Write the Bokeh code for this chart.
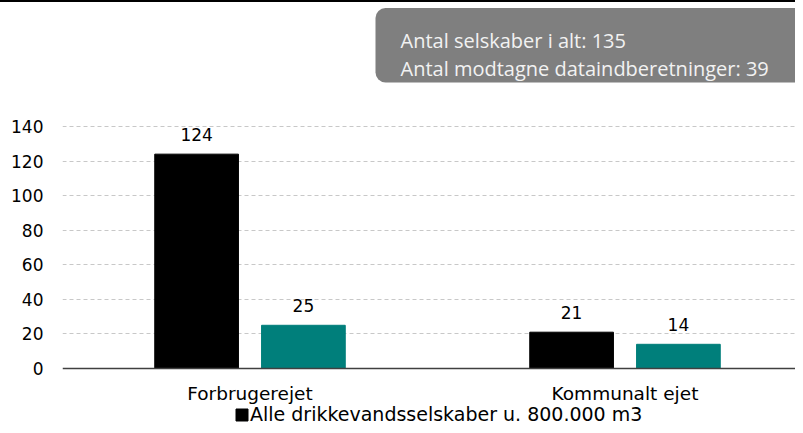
from bokeh.plotting import figure
from bokeh.models import (ColumnDataSource, FixedTicker, LabelSet, Legend, LegendItem,
                          BoxAnnotation, Label, Range1d, Div, LinearAxis)
from bokeh.layouts import column
from bokeh.core.properties import value
from bokeh.transform import dodge
from bokeh.embed import file_html
from bokeh.resources import INLINE

# ---- data ----
categories = ["Forbrugerejet", "Kommunalt ejet"]
alle_selskaber = [124, 21]
indberetninger = [25, 14]
legend_label = "Alle drikkevandsselskaber u. 800.000 m3"
y_ticks = [0, 20, 40, 60, 80, 100, 120, 140]
info_lines = ["Antal selskaber i alt: 135", "Antal modtagne dataindberetninger: 39"]

xpos = [i + 0.5 for i in range(len(categories))]
src = ColumnDataSource(dict(x=xpos, cat=categories, a=alle_selskaber, b=indberetninger,
                            a_txt=[str(v) for v in alle_selskaber],
                            b_txt=[str(v) for v in indberetninger]))

FONT = "DejaVu Sans"
FS_TICK = "17px"
FS_CAT = "18.5px"
FS_LEG = "19px"
OFF = 0.1424
BW = 0.2232
PXU = 1.7286  # px per y unit
FIG_H = 423
ZERO_Y = 366  # figure-pixel row of value 0

p = figure(width=795, height=FIG_H, output_backend="svg", toolbar_location=None,
           x_axis_location=None,
           x_range=Range1d(0, 733 / 375),
           y_range=Range1d(-(FIG_H - ZERO_Y) / PXU, ZERO_Y / PXU),
           min_border_left=62, min_border_right=0, min_border_top=0, min_border_bottom=0)
p.outline_line_color = None
p.background_fill_color = "white"
p.border_fill_color = "white"

r1 = p.vbar(x=dodge("x", -OFF), top="a", width=BW, source=src,
            fill_color="#000000", line_color="#000000")
r2 = p.vbar(x=dodge("x", OFF), top="b", width=BW, source=src,
            fill_color="#007f7b", line_color="#007f7b")

p.add_layout(LabelSet(x=dodge("x", -OFF), y="a", text="a_txt", source=src,
                      text_align="center", text_baseline="middle", y_offset=20,
                      text_font=value(FONT), text_font_size=value(FS_TICK), text_color="#000000"))
p.add_layout(LabelSet(x=dodge("x", OFF), y="b", text="b_txt", source=src,
                      text_align="center", text_baseline="middle", y_offset=20,
                      text_font=value(FONT), text_font_size=value(FS_TICK), text_color="#000000"))

# category axis fixed at value 0
xaxis = LinearAxis(fixed_location=0, ticker=FixedTicker(ticks=xpos),
                   major_label_overrides={x: c for x, c in zip(xpos, categories)},
                   major_tick_line_color=None, minor_tick_line_color=None,
                   major_tick_out=0, major_tick_in=0,
                   axis_line_color="#404040", axis_line_width=1.5,
                   major_label_standoff=14, major_label_text_font=FONT,
                   major_label_text_font_size=FS_CAT, major_label_text_color="#000000")
p.add_layout(xaxis, "below")

p.yaxis.ticker = FixedTicker(ticks=y_ticks)
p.yaxis.axis_line_color = None
p.yaxis.major_tick_line_color = None
p.yaxis.minor_tick_line_color = None
p.yaxis.major_tick_out = 0
p.yaxis.major_tick_in = 0
p.yaxis.major_label_standoff = 19
p.yaxis.major_label_text_font = FONT
p.yaxis.major_label_text_font_size = FS_TICK
p.yaxis.major_label_text_color = "#000000"

p.xgrid.grid_line_color = None
p.ygrid.ticker = FixedTicker(ticks=y_ticks[1:])
p.ygrid.grid_line_color = "#c8c8c8"
p.ygrid.grid_line_dash = "4 3"

# legend at the bottom of the plot area
legend = Legend(items=[LegendItem(label=legend_label, renderers=[r1])],
                location=(172, 0), orientation="horizontal",
                border_line_color=None, background_fill_alpha=0,
                padding=0, margin=0, glyph_width=15, glyph_height=15,
                label_standoff=1, label_height=15, spacing=0,
                label_text_font=FONT, label_text_font_size=FS_LEG, label_text_color="#000000")
p.add_layout(legend, "center")

# info box
def yv(page_y):
    return (368 - page_y) / PXU

p.add_layout(BoxAnnotation(left=(375 - 62) / 375, right=2.5, top=yv(7.5), bottom=yv(82),
                           fill_color="#7f7f7f", fill_alpha=1.0, line_color=None,
                           border_radius=10, level="overlay"))
p.add_layout(Label(x=(400 - 62) / 375, y=yv(40), text=info_lines[0], text_font="Open Sans",
                   text_font_size="20px", text_color="#f2f2f2", text_baseline="alphabetic",
                   level="overlay"))
p.add_layout(Label(x=(400 - 62) / 375, y=yv(68.3), text=info_lines[1], text_font="Open Sans",
                   text_font_size="20px", text_color="#f2f2f2", text_baseline="alphabetic",
                   level="overlay"))

# thin black rule across the top of the page
rule = Div(text="", width=795, height=2, margin=(0, 0, 0, 0),
           styles={"background-color": "#000000"})

layout = column(rule, p, spacing=0)

open("out.html", "w").write(file_html(layout, INLINE))
